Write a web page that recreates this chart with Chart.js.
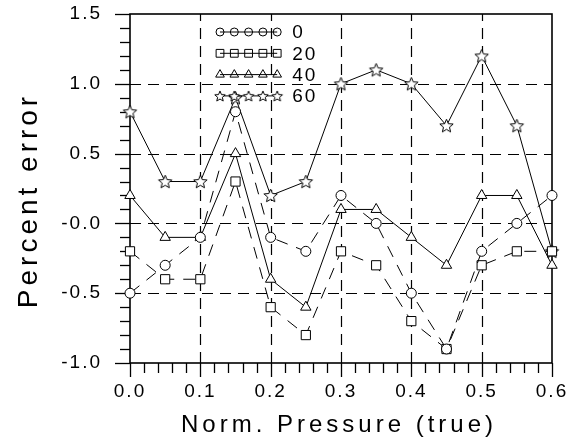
<!DOCTYPE html>
<html>
<head>
<meta charset="utf-8">
<script src="https://cdn.jsdelivr.net/npm/chart.js@4.4.0/dist/chart.umd.min.js"></script>
<style>
  html, body { margin: 0; padding: 0; background: #fff; }
</style>
</head>
<body>
<canvas id="errChart" width="570" height="439"></canvas>
<script>
// data
const pressure = [0.0, 0.05, 0.1, 0.15, 0.2, 0.25, 0.3, 0.35, 0.4, 0.45, 0.5, 0.55, 0.6];
const err0  = [-0.5, -0.3, -0.1, 0.8, -0.1, -0.2, 0.2, 0.0, -0.5, -0.9, -0.2, 0.0, 0.2];
const err20 = [-0.2, -0.4, -0.4, 0.3, -0.6, -0.8, -0.2, -0.3, -0.7, -0.9, -0.3, -0.2, -0.2];
const err40 = [0.2, -0.1, -0.1, 0.5, -0.4, -0.6, 0.1, 0.1, -0.1, -0.3, 0.2, 0.2, -0.3];
const err60 = [0.8, 0.3, 0.3, 0.9, 0.2, 0.3, 1.0, 1.1, 1.0, 0.7, 1.2, 0.7, -0.2];
const seriesNames = ['0', '20', '40', '60'];
const xTicks = [0.0, 0.1, 0.2, 0.3, 0.4, 0.5, 0.6];
const yTicks = [-1.0, -0.5, 0.0, 0.5, 1.0, 1.5];
const xTitle = 'Norm. Pressure (true)';
const yTitle = 'Percent error';

const FONT = "'Liberation Sans', Arial, sans-serif";

function starImage(r) {
    const c = document.createElement('canvas');
    const s = Math.ceil(r * 2 + 3);
    c.width = s; c.height = s;
    const g = c.getContext('2d');
    g.translate(s / 2, s / 2 + 0.6);
    g.beginPath();
    for (let i = 0; i < 10; i++) {
        const rad = i % 2 ? r * 0.45 : r;
        const a = -Math.PI / 2 + i * Math.PI / 5;
        g.lineTo(rad * Math.cos(a), rad * Math.sin(a));
    }
    g.closePath();
    g.fillStyle = '#fff';
    g.fill();
    g.lineWidth = 1;
    g.strokeStyle = '#000';
    g.stroke();
    return c;
}
const starBig = starImage(7);
const starSmall = starImage(5.5);

function pts(ys) {
    return pressure.map((x, i) => ({ x: x, y: ys[i] }));
}

function series(label, ys, style, radius, dash) {
    return {
        label: label,
        data: pts(ys),
        borderColor: '#000',
        borderWidth: 1,
        borderDash: dash,
        pointStyle: style,
        pointRadius: radius,
        pointHoverRadius: radius,
        pointBorderColor: '#000',
        pointBorderWidth: 1,
        pointBackgroundColor: '#fff',
        tension: 0,
        clip: false
    };
}

// dashed grid, frame, tick marks, legend and axis titles
const framePlugin = {
    id: 'frame',
    beforeDraw(chart) {
        chart.ctx.letterSpacing = '2px';
    },
    beforeDatasetsDraw(chart) {
        const { ctx, chartArea: a, scales: { x, y } } = chart;
        ctx.save();
        ctx.strokeStyle = '#000';
        ctx.lineWidth = 1.2;
        ctx.setLineDash([11, 7]);
        xTicks.slice(1, -1).forEach(v => {
            const px = Math.round(x.getPixelForValue(v)) + 0.5;
            ctx.beginPath(); ctx.moveTo(px, a.bottom); ctx.lineTo(px, a.top); ctx.stroke();
        });
        yTicks.slice(1, -1).forEach(v => {
            const py = Math.round(y.getPixelForValue(v)) + 0.5;
            ctx.beginPath(); ctx.moveTo(a.left, py); ctx.lineTo(a.right, py); ctx.stroke();
        });
        ctx.setLineDash([]);
        ctx.lineWidth = 1.6;
        ctx.strokeRect(a.left, a.top, a.right - a.left, a.bottom - a.top);
        ctx.lineWidth = 1.3;
        for (let i = -10; i <= 15; i++) {
            const py = Math.round(y.getPixelForValue(i / 10)) + 0.5;
            const len = i % 5 === 0 ? 15 : 10;
            ctx.beginPath(); ctx.moveTo(a.left, py); ctx.lineTo(a.left - len, py); ctx.stroke();
        }
        for (let i = 0; i <= 30; i++) {
            const px = Math.round(x.getPixelForValue(i / 50)) + 0.5;
            const len = i % 5 === 0 ? 14 : 10;
            ctx.beginPath(); ctx.moveTo(px, a.bottom); ctx.lineTo(px, a.bottom + len); ctx.stroke();
        }
        ctx.restore();
    },
    afterDatasetsDraw(chart) {
        const { ctx, chartArea: a } = chart;
        const styles = [
            { pointStyle: 'circle', radius: 4 },
            { pointStyle: 'rect', radius: 5.5 },
            { pointStyle: 'triangle', radius: 5 },
            { pointStyle: starSmall, radius: 5 }
        ];
        ctx.save();
        ctx.strokeStyle = '#000';
        ctx.lineWidth = 1;
        ctx.font = '19px ' + FONT;
        ctx.letterSpacing = '2px';
        ctx.textBaseline = 'middle';
        seriesNames.forEach((name, r) => {
            const yy = a.top + 18 + r * 21.3;
            const x0 = a.left + 90, step = 14.3;
            ctx.beginPath(); ctx.moveTo(x0, yy); ctx.lineTo(x0 + 4 * step, yy); ctx.stroke();
            for (let k = 0; k < 5; k++) {
                ctx.fillStyle = 'rgba(255,255,255,0)';
                Chart.helpers.drawPoint(ctx, Object.assign({ rotation: 0, borderWidth: 1 }, styles[r]), x0 + k * step, yy);
            }
            ctx.fillStyle = '#000';
            ctx.fillText(name, x0 + 4 * step + 15, yy + 1);
        });
        ctx.restore();
    },
    afterDraw(chart) {
        const { ctx, chartArea: a } = chart;
        ctx.save();
        ctx.fillStyle = '#000';
        ctx.letterSpacing = '4px';
        ctx.textAlign = 'center';
        ctx.textBaseline = 'alphabetic';
        ctx.font = '24px ' + FONT;
        ctx.fillText(xTitle, (a.left + a.right) / 2 - 2, a.bottom + 69);
        ctx.font = '28px ' + FONT;
        ctx.translate(37, (a.top + a.bottom) / 2 + 12);
        ctx.rotate(-Math.PI / 2);
        ctx.fillText(yTitle, 0, 0);
        ctx.restore();
    }
};

const ctx = document.getElementById('errChart').getContext('2d');
const errChart = new Chart(ctx, {
    type: 'line',
    data: {
        datasets: [
            series(seriesNames[0], err0, 'circle', 5, [12, 9]),
            series(seriesNames[1], err20, 'rect', 6.5, [12, 9]),
            series(seriesNames[2], err40, 'triangle', 6, []),
            series(seriesNames[3], err60, starBig, 7, [])
        ]
    },
    options: {
        responsive: false,
        animation: false,
        layout: { padding: { top: 14, right: 18, left: 0, bottom: 0 } },
        plugins: {
            legend: { display: false },
            tooltip: { enabled: false }
        },
        scales: {
            x: {
                type: 'linear',
                min: 0,
                max: 0.6,
                afterBuildTicks: s => { s.ticks = xTicks.map(v => ({ value: v })); },
                afterFit: s => { s.height = 76; s.paddingLeft = 0; s.paddingRight = 0; },
                grid: { display: false, drawTicks: false },
                border: { display: false },
                ticks: {
                    color: '#000',
                    font: { family: FONT, size: 19 },
                    padding: 17,
                    autoSkip: false,
                    maxRotation: 0,
                    callback: v => v.toFixed(1)
                }
            },
            y: {
                type: 'linear',
                min: -1,
                max: 1.5,
                afterBuildTicks: s => { s.ticks = yTicks.map(v => ({ value: v })); },
                afterFit: s => { s.width = 130; s.paddingTop = 0; s.paddingBottom = 0; },
                grid: { display: false, drawTicks: false },
                border: { display: false },
                ticks: {
                    color: '#000',
                    font: { family: FONT, size: 19 },
                    padding: 28,
                    autoSkip: false,
                    callback: v => (v === 0 ? '-0.0' : v.toFixed(1))
                }
            }
        }
    },
    plugins: [framePlugin]
});
</script>
</body>
</html>
